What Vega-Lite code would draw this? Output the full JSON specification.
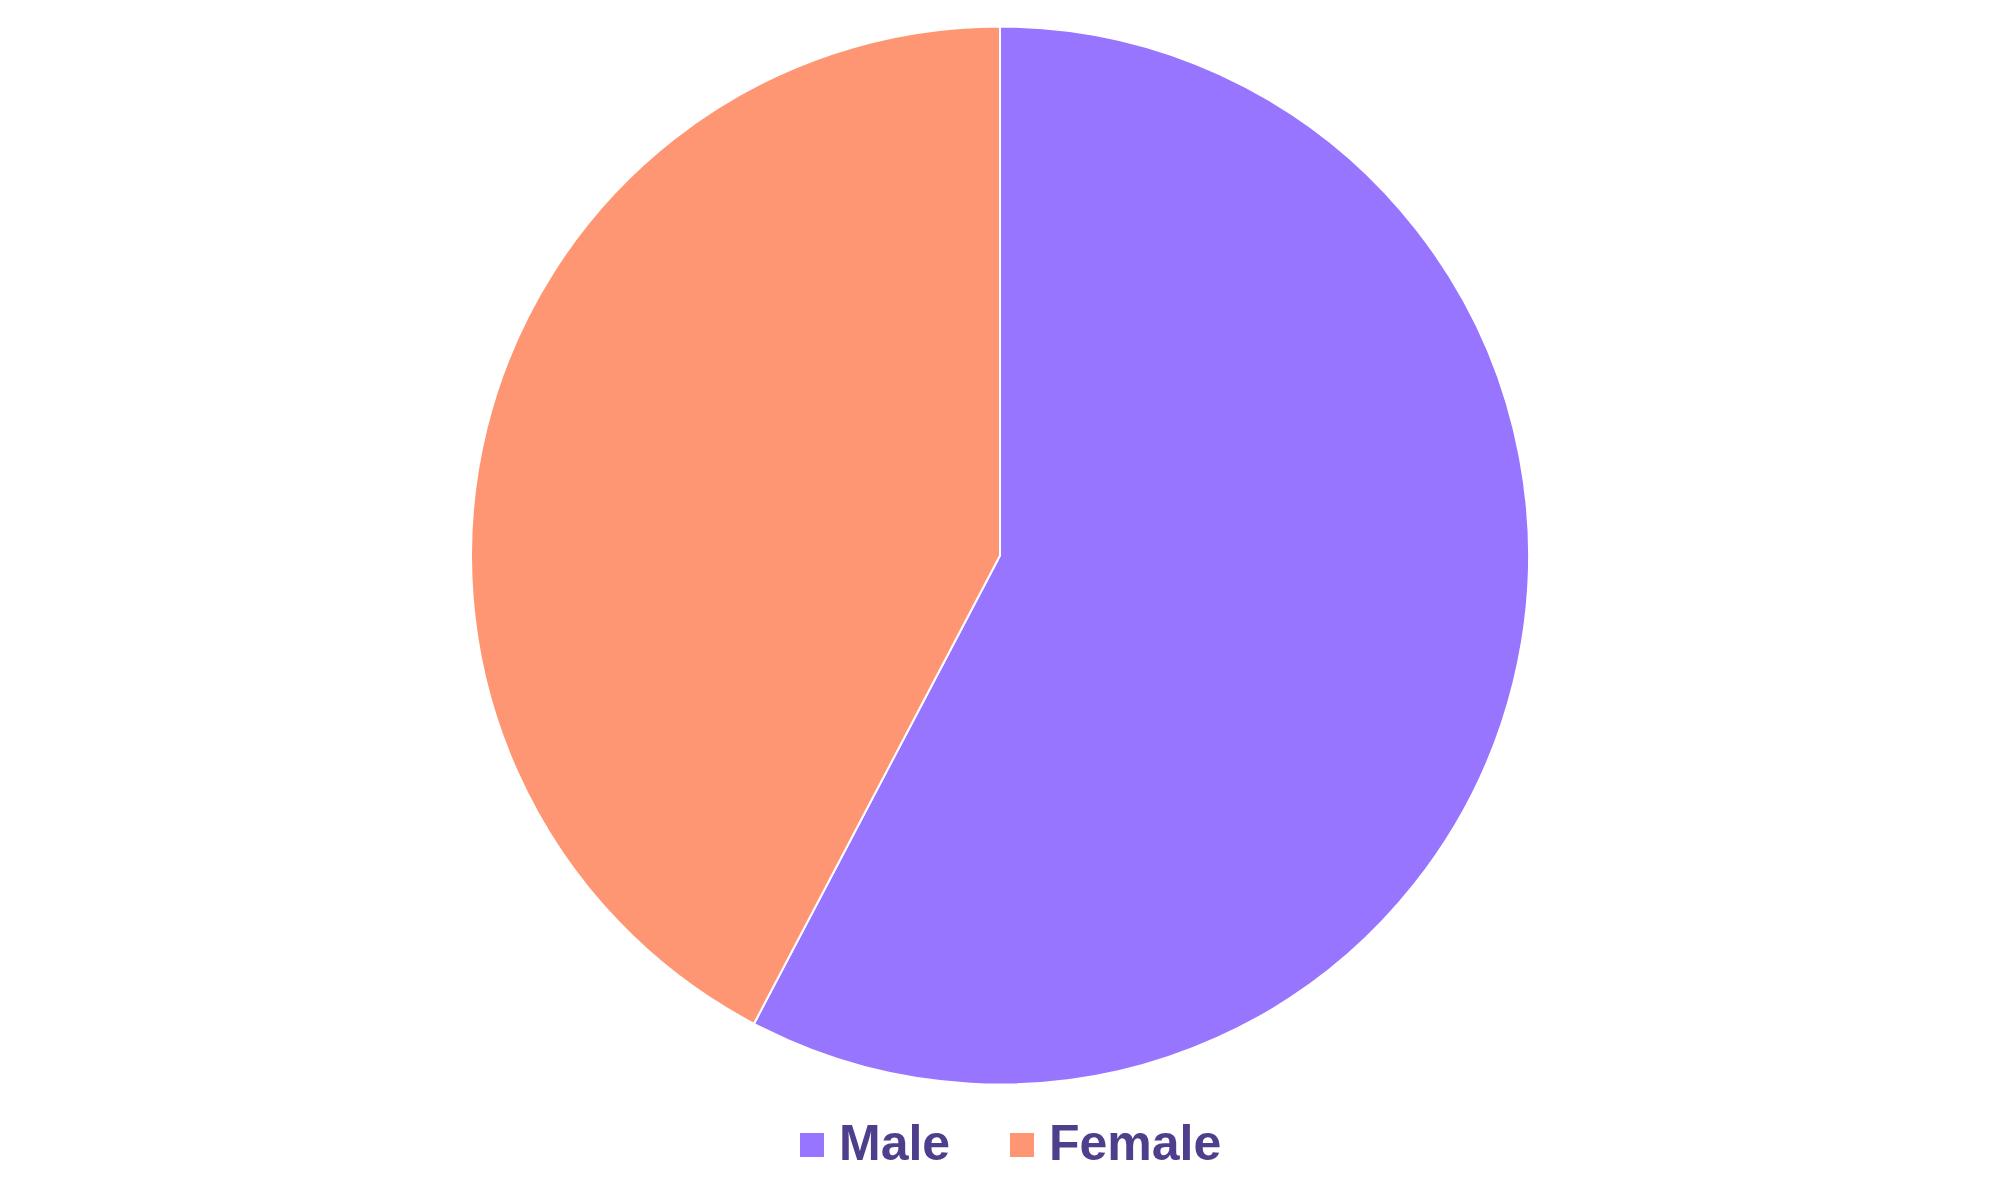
{
  "$schema": "https://vega.github.io/schema/vega-lite/v6.json",
  "width": 2000,
  "height": 1111,
  "padding": {"left": 0, "top": 0, "right": 0, "bottom": 30},
  "autosize": {"type": "pad"},
  "background": "white",
  "data": {"values": [
    {"gender": "Male", "share": 57.7},
    {"gender": "Female", "share": 42.3}
  ]},
  "mark": {"type": "arc", "outerRadius": 529, "stroke": "white", "strokeWidth": 2},
  "encoding": {
    "theta": {"field": "share", "type": "quantitative", "stack": true},
    "order": {"field": "gender", "sort": "descending"},
    "color": {
      "field": "gender",
      "type": "nominal",
      "scale": {"domain": ["Male", "Female"], "range": ["#9875ff", "#ff9673"]},
      "legend": {
        "title": null,
        "orient": "none",
        "direction": "horizontal",
        "legendX": 787,
        "legendY": 1120,
        "symbolType": "square",
        "symbolSize": 576,
        "symbolStrokeWidth": 0,
        "symbolOpacity": 1,
        "labelFont": "Liberation Sans",
        "labelFontSize": 50,
        "labelFontWeight": "bold",
        "labelColor": "#4f3e8c",
        "labelOffset": 2,
        "labelLimit": 0,
        "columnPadding": 46,
        "padding": 0
      }
    }
  },
  "config": {"view": {"stroke": null}}
}
